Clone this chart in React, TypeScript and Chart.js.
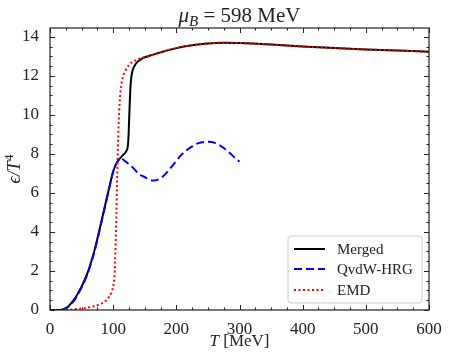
import React, { useEffect, useRef } from "react";
import { Chart, registerables } from "chart.js";

Chart.register(...registerables);

// ---------- data ----------
const mergedT = [0, 10, 15, 20, 25, 30, 35, 40, 45, 50, 55, 60, 65, 70, 75, 80, 85, 90, 95, 100, 105, 110, 115, 119, 121, 123, 124, 125, 126, 127, 128, 129, 131, 134, 138, 145, 150, 160, 175, 200, 225, 250, 275, 300, 350, 400, 450, 500, 550, 600];
const mergedE = [0, 0, 0, 0.03, 0.1, 0.22, 0.4, 0.62, 0.9, 1.2, 1.55, 1.95, 2.45, 3.0, 3.65, 4.35, 5.05, 5.75, 6.45, 7.1, 7.5, 7.74, 7.92, 8.05, 8.15, 8.35, 8.7, 9.5, 10.4, 11.2, 11.7, 12.0, 12.3, 12.52, 12.7, 12.87, 12.95, 13.05, 13.2, 13.42, 13.57, 13.66, 13.7, 13.68, 13.6, 13.5, 13.42, 13.35, 13.3, 13.23];

const qvdwT = [0, 10, 15, 20, 25, 30, 35, 40, 45, 50, 55, 60, 65, 70, 75, 80, 85, 90, 95, 100, 105, 110, 112, 120, 132, 140, 148, 163, 175, 185, 195, 205, 215, 225, 235, 250, 262, 275, 285, 292, 300];
const qvdwE = [0, 0, 0, 0.02, 0.08, 0.18, 0.35, 0.57, 0.85, 1.15, 1.5, 1.9, 2.4, 2.95, 3.6, 4.3, 5.0, 5.72, 6.42, 7.08, 7.5, 7.72, 7.76, 7.6, 7.27, 6.98, 6.84, 6.63, 6.75, 7.05, 7.44, 7.85, 8.15, 8.38, 8.55, 8.62, 8.55, 8.3, 8.03, 7.82, 7.6];

const emdT = [25, 35, 45, 55, 65, 75, 85, 92, 97, 100, 102, 103, 104, 105, 106, 107, 108, 109, 110, 112, 115, 120, 125, 130, 140, 150, 160, 175, 200, 225, 250, 275, 300, 350, 400, 450, 500, 550, 600];
const emdE = [0, 0.02, 0.06, 0.1, 0.16, 0.25, 0.4, 0.6, 0.9, 1.2, 1.7, 2.4, 3.5, 4.8, 6.3, 7.7, 8.9, 9.8, 10.5, 11.3, 11.9, 12.3, 12.55, 12.7, 12.85, 12.95, 13.05, 13.2, 13.42, 13.57, 13.66, 13.7, 13.68, 13.6, 13.5, 13.42, 13.35, 13.3, 13.23];

const xTickValues = [0, 100, 200, 300, 400, 500, 600];
const yTickValues = [0, 2, 4, 6, 8, 10, 12, 14];

const seriesLabels = ["Merged", "QvdW-HRG", "EMD"];
const titleMain = "μ";
const titleSub = "B";
const titleRest = " = 598 MeV";
const xLabelItalic = "T";
const xLabelRest = " [MeV]";

const SERIF = "'Liberation Serif', 'DejaVu Serif', serif";

const toPts = (xs: number[], ys: number[]) => xs.map((x, i) => ({ x, y: ys[i] }));

type Part = { t: string; font: string; dy?: number };
function drawParts(ctx: CanvasRenderingContext2D, parts: Part[], x: number, y: number, align: "center" | "left") {
  let total = 0;
  const widths = parts.map((p) => {
    ctx.font = p.font;
    const w = ctx.measureText(p.t).width;
    total += w;
    return w;
  });
  let cx = align === "center" ? x - total / 2 : x;
  ctx.textAlign = "left";
  parts.forEach((p, i) => {
    ctx.font = p.font;
    ctx.fillText(p.t, cx, y + (p.dy || 0));
    cx += widths[i];
  });
}

const decorPlugin = {
  id: "decor",
  afterDraw(chart: any) {
    const { ctx, chartArea, scales } = chart;
    const { left, right, top, bottom } = chartArea;
    const xs = scales.x;
    const ys = scales.y;
    ctx.save();
    // ticks (inward, all sides)
    ctx.strokeStyle = "#222";
    ctx.lineWidth = 1;
    ctx.beginPath();
    for (let v = 0; v <= 600; v += 25) {
      const px = Math.round(xs.getPixelForValue(v)) + 0.5;
      const len = v % 100 === 0 ? 5 : 2.5;
      ctx.moveTo(px, bottom);
      ctx.lineTo(px, bottom - len);
      ctx.moveTo(px, top);
      ctx.lineTo(px, top + len);
    }
    for (let v = 0; v <= 14.4; v += 0.5) {
      const py = Math.round(ys.getPixelForValue(v)) + 0.5;
      const len = Math.abs(v % 2) < 1e-6 ? 5 : 2.5;
      ctx.moveTo(left, py);
      ctx.lineTo(left + len, py);
      ctx.moveTo(right, py);
      ctx.lineTo(right - len, py);
    }
    ctx.stroke();
    // frame
    ctx.strokeStyle = "#222";
    ctx.lineWidth = 1.2;
    ctx.strokeRect(left, top, right - left, bottom - top);

    // title
    ctx.fillStyle = "#222";
    ctx.textBaseline = "alphabetic";
    const cx = (left + right) / 2;
    drawParts(
      ctx,
      [
        { t: titleMain, font: `italic 21px ${SERIF}` },
        { t: titleSub, font: `italic 15px ${SERIF}`, dy: 4 },
        { t: titleRest, font: `21px ${SERIF}` },
      ],
      cx,
      22,
      "center"
    );
    // x label
    drawParts(
      ctx,
      [
        { t: xLabelItalic, font: `italic 17px ${SERIF}` },
        { t: xLabelRest, font: `17px ${SERIF}` },
      ],
      cx,
      346,
      "center"
    );
    // y label (rotated)
    ctx.save();
    ctx.translate(20, (top + bottom) / 2);
    ctx.rotate(-Math.PI / 2);
    drawParts(
      ctx,
      [
        { t: "ϵ/", font: `italic 18px ${SERIF}` },
        { t: "T", font: `italic 18px ${SERIF}` },
        { t: "4", font: `13px ${SERIF}`, dy: -7 },
      ],
      0,
      0,
      "center"
    );
    ctx.restore();

    // legend
    const bx = 288, by = 236, bw = 134, bh = 67, r = 3;
    ctx.beginPath();
    ctx.moveTo(bx + r, by);
    ctx.lineTo(bx + bw - r, by);
    ctx.arcTo(bx + bw, by, bx + bw, by + r, r);
    ctx.lineTo(bx + bw, by + bh - r);
    ctx.arcTo(bx + bw, by + bh, bx + bw - r, by + bh, r);
    ctx.lineTo(bx + r, by + bh);
    ctx.arcTo(bx, by + bh, bx, by + bh - r, r);
    ctx.lineTo(bx, by + r);
    ctx.arcTo(bx, by, bx + r, by, r);
    ctx.closePath();
    ctx.fillStyle = "rgba(255,255,255,0.8)";
    ctx.fill();
    ctx.strokeStyle = "#cccccc";
    ctx.lineWidth = 1;
    ctx.stroke();

    const rows = [
      { y: 249, color: "#000000", dash: [] as number[] },
      { y: 269, color: "#0000ff", dash: [8, 4] },
      { y: 290, color: "#ff0000", dash: [2, 2.5] },
    ];
    rows.forEach((row, i) => {
      ctx.beginPath();
      ctx.setLineDash(row.dash);
      ctx.strokeStyle = row.color;
      ctx.lineWidth = 2;
      ctx.moveTo(294, row.y);
      ctx.lineTo(325, row.y);
      ctx.stroke();
      ctx.setLineDash([]);
      ctx.fillStyle = "#222";
      ctx.font = `15px ${SERIF}`;
      ctx.textAlign = "left";
      ctx.textBaseline = "middle";
      ctx.fillText(seriesLabels[i], 337, row.y + 1);
    });
    ctx.restore();
  },
};

export default function App() {
  const ref = useRef<HTMLCanvasElement | null>(null);
  useEffect(() => {
    if (!ref.current) return;
    const tickFont = { family: SERIF, size: 17 };
    const chart = new Chart(ref.current, {
      type: "line",
      data: {
        datasets: [
          {
            label: seriesLabels[0],
            data: toPts(mergedT, mergedE),
            borderColor: "#000000",
            borderWidth: 2,
            pointRadius: 0,
            cubicInterpolationMode: "monotone",
            order: 2,
          },
          {
            label: seriesLabels[1],
            data: toPts(qvdwT, qvdwE),
            borderColor: "#0000ff",
            borderWidth: 2,
            borderDash: [8, 4],
            pointRadius: 0,
            cubicInterpolationMode: "monotone",
            order: 1,
          },
          {
            label: seriesLabels[2],
            data: toPts(emdT, emdE),
            borderColor: "#ff0000",
            borderWidth: 2,
            borderDash: [2, 2.5],
            pointRadius: 0,
            cubicInterpolationMode: "monotone",
            order: 0,
          },
        ],
      },
      options: {
        animation: false,
        responsive: false,
        layout: { padding: { left: 0, right: 20, top: 28, bottom: 0 } },
        plugins: { legend: { display: false }, tooltip: { enabled: false }, title: { display: false } },
        scales: {
          x: {
            type: "linear",
            min: 0,
            max: 600,
            afterBuildTicks: (s: any) => {
              s.ticks = xTickValues.map((v) => ({ value: v }));
            },
            ticks: { font: tickFont, color: "#222", padding: 1, maxRotation: 0 },
            grid: { display: false },
            border: { display: false },
            afterFit: (s: any) => {
              s.height = 48;
            },
          },
          y: {
            type: "linear",
            min: 0,
            max: 14.45,
            afterBuildTicks: (s: any) => {
              s.ticks = yTickValues.map((v) => ({ value: v }));
            },
            ticks: { font: tickFont, color: "#222", padding: 3 },
            grid: { display: false },
            border: { display: false },
            afterFit: (s: any) => {
              s.width = 50;
            },
          },
        },
      } as any,
      plugins: [decorPlugin],
    });
    return () => chart.destroy();
  }, []);
  return (
    <div style={{ position: "absolute", left: 0, top: 0, width: 449, height: 358, background: "#fff" }}>
      <canvas ref={ref} width={449} height={358} style={{ width: 449, height: 358 }} />
    </div>
  );
}
